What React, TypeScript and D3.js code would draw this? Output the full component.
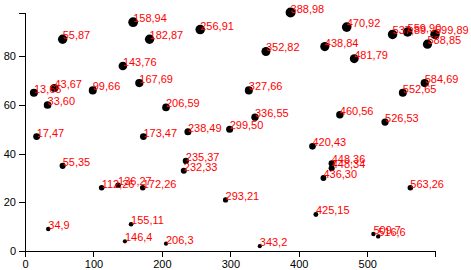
import React, { useEffect, useRef } from "react";
import * as d3 from "d3";

const xValues = [13, 43, 55, 33, 99, 143, 158, 182, 167, 256, 206, 388, 352, 327, 336, 299, 238, 173, 17, 470, 438, 481, 537, 559, 599, 588, 584, 552, 460, 526, 420, 448, 448, 436, 563, 425, 509, 516, 55, 112, 136, 172, 235, 232, 293, 155, 146, 34, 206, 343];
const yValues = [65, 67, 87, 60, 66, 76, 94, 87, 69, 91, 59, 98, 82, 66, 55, 50, 49, 47, 47, 92, 84, 79, 89, 90, 89, 85, 69, 65, 56, 53, 43, 36, 34, 30, 26, 15, 7, 6, 35, 26, 27, 26, 37, 33, 21, 11, 4, 9, 3, 2];
const xTicks = [0, 100, 200, 300, 400, 500];
const yTicks = [0, 20, 40, 60, 80];

const W = 471;
const H = 270;

export default function App() {
  const xRef = useRef<SVGGElement>(null);
  const yRef = useRef<SVGGElement>(null);
  const data = xValues.map((x, i) => [x, yValues[i]] as [number, number]);
  const xMax = d3.max(xValues) as number;
  const yMax = d3.max(yValues) as number;
  const x = d3.scaleLinear().domain([0, xMax]).range([25, 435]);
  const y = d3.scaleLinear().domain([0, yMax]).range([251, 12.5]);
  const r = d3.scaleLinear().domain([0, yMax]).range([2, 5]);

  useEffect(() => {
    if (xRef.current) {
      const g = d3.select(xRef.current);
      g.call(d3.axisBottom(x).tickValues(xTicks) as any);
      g.attr("font-size", 11).attr("font-family", "Liberation Sans, Arial, sans-serif");
      g.selectAll("path,line").attr("shape-rendering", "crispEdges");
    }
    if (yRef.current) {
      const g = d3.select(yRef.current);
      g.call(d3.axisLeft(y).tickValues(yTicks) as any);
      g.attr("font-size", 11).attr("font-family", "Liberation Sans, Arial, sans-serif");
      g.selectAll("path,line").attr("shape-rendering", "crispEdges");
    }
  });

  return (
    <svg width={W} height={H} style={{ position: "absolute", left: 0, top: 0, background: "#fff" }}>
      {data.map((d, i) => (
        <circle key={"c" + i} cx={x(d[0])} cy={y(d[1])} r={r(d[1])} fill="black" />
      ))}
      {data.map((d, i) => (
        <text
          key={"t" + i}
          x={x(d[0])}
          y={y(d[1])}
          fill="red"
          fontSize={11}
          fontFamily="Liberation Sans, Arial, sans-serif"
        >
          {d[0] + "," + d[1]}
        </text>
      ))}
      <g ref={xRef} transform={`translate(0,${y(0)})`} />
      <g ref={yRef} transform={`translate(${x(0)},0)`} />
    </svg>
  );
}
